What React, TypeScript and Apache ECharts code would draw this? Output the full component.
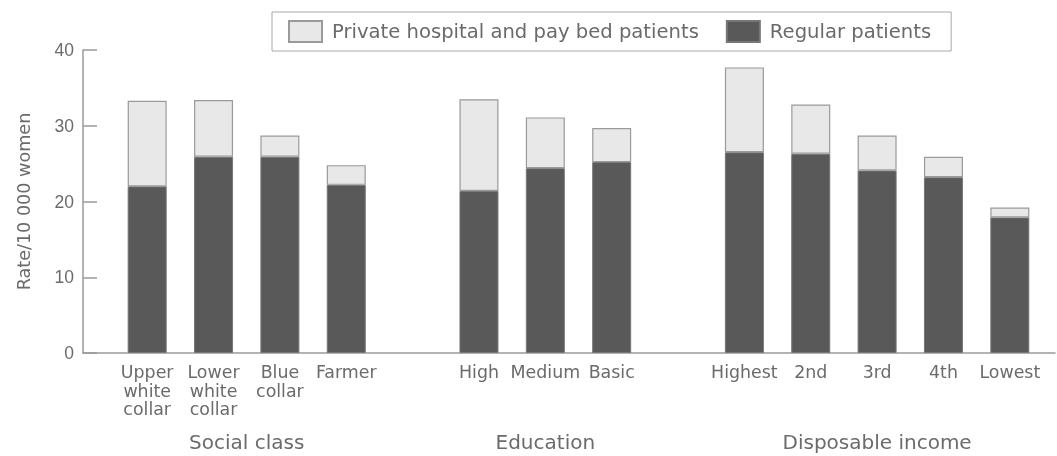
import React, { useEffect, useRef } from "react";
import * as echarts from "echarts";

const categories = [
  "Upper\nwhite\ncollar", "Lower\nwhite\ncollar", "Blue\ncollar", "Farmer", "",
  "High", "Medium", "Basic", "",
  "Highest", "2nd", "3rd", "4th", "Lowest",
];
const regular: (number | null)[] = [22.0, 25.9, 25.9, 22.2, null, 21.4, 24.4, 25.2, null, 26.5, 26.3, 24.1, 23.2, 17.9];
const total: (number | null)[] = [33.3, 33.4, 28.7, 24.8, null, 33.5, 31.1, 29.7, null, 37.7, 32.8, 28.7, 25.9, 19.2];
const groups = [
  { name: "Social class", from: 1, to: 2 },
  { name: "Education", from: 6, to: 6 },
  { name: "Disposable income", from: 11, to: 11 },
];
const yTicks = { min: 0, max: 40, interval: 10 };
const seriesNames = ["Private hospital and pay bed patients", "Regular patients"];

const FONT = "DejaVu Sans";
const DIGITS = "Liberation Sans";
const TEXT = "#6b6b6b";

export default function App() {
  const ref = useRef<HTMLDivElement>(null);
  useEffect(() => {
    if (!ref.current) return;
    const chart = echarts.init(ref.current, null, { renderer: "svg" });
    const priv = total.map((t, i) => (t == null || regular[i] == null ? null : +(t - (regular[i] as number)).toFixed(2)));
    chart.setOption({
      animation: false,
      textStyle: { fontFamily: FONT },
      legend: {
        data: seriesNames,
        icon: "rect",
        left: 272,
        top: 12,
        padding: [8, 20, 8, 16],
        itemWidth: 33,
        itemHeight: 21,
        itemGap: 27,
        borderColor: "#a8a8a8",
        borderWidth: 1,
        textStyle: { fontFamily: FONT, fontSize: 19.6, color: "#6a6a6a", padding: [0, 0, 0, 5] },
      },
      grid: [
        { left: 114, right: 14, top: 50, bottom: 103 },
        { left: 83, right: 2, top: 50, bottom: 103 },
      ],
      xAxis: [
        {
          type: "category",
          gridIndex: 0,
          data: categories,
          axisLine: { show: false },
          axisTick: { show: false },
          axisLabel: { interval: 0, margin: 10, fontSize: 17.4, lineHeight: 18.5, color: TEXT, fontFamily: FONT },
        },
        {
          type: "value",
          gridIndex: 1,
          min: 0,
          max: 1,
          axisLine: { show: true, lineStyle: { color: "#9a9a9a", width: 1.5 } },
          axisTick: { show: false },
          axisLabel: { show: false },
          splitLine: { show: false },
        },
      ],
      yAxis: [
        {
          type: "value",
          gridIndex: 0,
          ...yTicks,
          show: false,
          splitLine: { show: false },
        },
        {
          type: "value",
          gridIndex: 1,
          ...yTicks,
          name: "Rate/10 000 women",
          nameLocation: "middle",
          nameGap: 50,
          nameTextStyle: { fontSize: 17.6, color: TEXT, fontFamily: FONT },
          axisLine: { show: true, lineStyle: { color: "#9a9a9a", width: 1.5 } },
          axisTick: { show: true, inside: true, length: 14, lineStyle: { color: "#9a9a9a", width: 1.5 } },
          axisLabel: { margin: 9, fontSize: 17.5, color: TEXT, fontFamily: DIGITS },
          splitLine: { show: false },
        },
      ],
      series: [
        {
          name: seriesNames[1],
          type: "bar",
          stack: "s",
          xAxisIndex: 0,
          yAxisIndex: 0,
          barWidth: 39,
          data: regular,
          itemStyle: { color: "#595959", borderColor: "#767676", borderWidth: 1 },
        },
        {
          name: seriesNames[0],
          type: "bar",
          stack: "s",
          xAxisIndex: 0,
          yAxisIndex: 0,
          barWidth: 39,
          data: priv,
          itemStyle: { color: "#e8e8e8", borderColor: "#9a9a9a", borderWidth: 1.2 },
        },
      ],
    });
    const graphics = groups.map((g) => {
      const x1 = chart.convertToPixel({ xAxisIndex: 0 }, g.from) as number;
      const x2 = chart.convertToPixel({ xAxisIndex: 0 }, g.to) as number;
      return {
        type: "text",
        x: (x1 + x2) / 2,
        y: 442,
        style: {
          text: g.name,
          align: "center",
          verticalAlign: "middle",
          fontSize: 20,
          fontFamily: FONT,
          fill: TEXT,
        },
      };
    });
    chart.setOption({ graphic: graphics });
    return () => chart.dispose();
  }, []);
  return <div ref={ref} style={{ position: "fixed", left: 0, top: 0, width: 1057, height: 456 }} />;
}
